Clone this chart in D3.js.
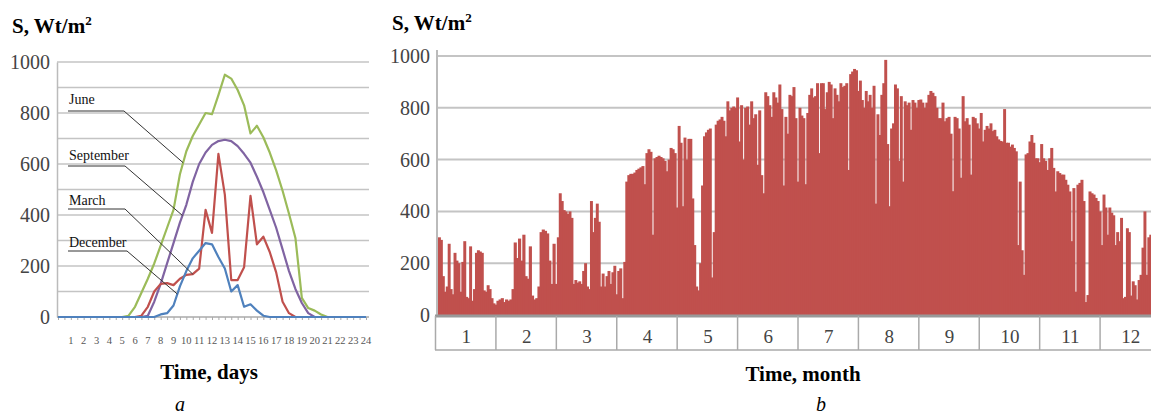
<!DOCTYPE html>
<html>
<head>
<meta charset="utf-8">
<script src="https://cdn.jsdelivr.net/npm/d3@7"></script>
<style>
    body { margin: 0; background: #fff; }
    svg { display: block; }
    svg text { font-family: "Liberation Serif", "DejaVu Serif", serif; }
</style>
</head>
<body>
<script>
// ---- DATA ----
// (a) hourly profile, half-hour steps from 0 to 24 h
var hours = d3.range(0, 24.01, 0.5);
var june = [0,0,0,0,0,0,0,0,0,0,
    0,5,40,95,150,210,280,350,420,560,
    650,710,755,800,795,870,950,935,890,830,
    720,750,705,645,575,495,405,310,75,35,
    25,10,0,0,0,0,0,0,0];
var september = [0,0,0,0,0,0,0,0,0,0,
    0,0,0,0,5,60,130,210,290,370,
    440,530,600,645,675,690,695,690,670,640,
    605,550,490,420,350,265,180,110,55,15,
    0,0,0,0,0,0,0,0,0];
var march = [0,0,0,0,0,0,0,0,0,0,
    0,0,0,5,40,100,130,133,125,150,
    165,168,190,420,330,640,480,145,145,195,
    475,285,315,255,175,60,15,0,0,0,
    0,0,0,0,0,0,0,0,0];
var december = [0,0,0,0,0,0,0,0,0,0,
    0,0,0,0,0,0,10,15,45,120,
    180,230,260,290,285,235,190,100,125,40,
    50,25,5,0,0,0,0,0,0,0,
    0,0,0,0,0,0,0,0,0];
var seriesNames = ["June", "September", "March", "December"];
var hourLabels = d3.range(1, 25);
var yTicksA = [0, 200, 400, 600, 800, 1000];

// (b) daily values by month
var months = ["1","2","3","4","5","6","7","8","9","10","11","12"];
var jan = [295,300,290,150,90,110,275,100,80,240,210,200,90,205,285,70,65,265,55,100,240,250,245,240,95,90,115,100,65,45,40];
var feb = [55,60,65,50,60,55,60,100,280,220,295,210,310,150,140,265,75,60,65,110,320,330,325,315,210,120,275,120];
var mar = [300,470,440,405,400,390,400,375,120,135,125,130,120,170,200,110,100,440,320,375,430,360,110,160,110,150,170,120,165,190,80];
var apr = [170,180,65,205,515,540,545,545,550,560,565,570,575,505,625,640,630,310,605,610,615,610,605,595,555,600,645,640,625,415];
var may = [730,665,420,685,600,680,680,450,270,110,95,200,500,690,705,715,720,145,320,735,750,755,765,750,690,825,790,800,805,800,840];
var jun = [670,810,600,800,805,735,825,760,775,580,790,540,470,860,845,810,765,860,840,820,890,795,500,765,700,850,845,880,760,515];
var jul = [800,770,760,505,780,850,875,840,845,895,625,895,895,795,860,900,890,760,875,850,825,895,880,885,895,560,930,940,950,945,865];
var aug = [905,830,800,865,825,850,800,885,430,775,695,850,895,985,660,420,720,740,890,875,595,845,515,825,810,820,715,830,820,800,830];
var sep = [832,820,800,820,850,865,858,845,800,760,760,820,748,760,765,700,478,765,760,720,530,845,748,760,735,542,765,760,740,720];
var oct = [780,670,715,730,720,740,710,715,690,678,672,670,795,665,665,650,658,645,632,270,515,250,155,620,625,670,695,665,605,605,590];
var nov = [660,605,595,560,605,645,568,477,555,548,542,542,522,503,477,285,490,90,503,510,522,440,50,77,477,470,465,452,440,400];
var dec = [270,465,415,310,415,395,385,270,320,285,375,65,70,335,320,75,130,115,60,135,155,260,400,155,300,310,250,120,200,150,100];
var yTicksB = [0, 200, 400, 600, 800, 1000];

var lineColors = ["#9bbb59", "#8064a2", "#c0504d", "#4f81bd"];
var barColor = "#c0504d";
var serif = "'Liberation Serif', 'DejaVu Serif', serif";

function main() {
    var svg = d3.select("body").append("svg")
        .attr("width", 1151)
        .attr("height", 418);

    drawHourly(svg);
    drawYearly(svg);
}

// left chart: solar radiation during the day
function drawHourly(svg) {
    var x = d3.scaleLinear().domain([0, 24]).range([58, 366]);
    var y = d3.scaleLinear().domain([0, 1000]).range([317, 62]);
    var g = svg.append("g");

    // gridlines every 100
    g.selectAll(".grid").data(d3.range(100, 1001, 100)).enter()
        .append("line")
        .attr("x1", 57).attr("x2", 369)
        .attr("y1", function (d) { return y(d); })
        .attr("y2", function (d) { return y(d); })
        .attr("stroke", "#c4c4c4").attr("stroke-width", 1.5);

    // y axis
    var yAxis = d3.axisLeft(y).tickValues(yTicksA).tickFormat(d3.format("d"))
        .tickSize(0).tickPadding(7);
    var ya = g.append("g").attr("transform", "translate(57,0)").call(yAxis);
    ya.select(".domain").attr("stroke", "#bbb").attr("stroke-width", 1.5);
    ya.selectAll("text").style("font-size", "20px").style("fill", "#444")
        .style("font-family", serif);

    // x axis with half hour ticks
    var xAxis = d3.axisBottom(x).tickValues(hours).tickSize(3).tickFormat("");
    var xa = g.append("g").attr("transform", "translate(0,317)").call(xAxis);
    xa.select(".domain").attr("d", "M57,0H369").attr("stroke", "#aaa").attr("stroke-width", 1.5);
    xa.selectAll(".tick line").attr("stroke", "#aaa");

    g.selectAll(".hlab").data(hourLabels).enter()
        .append("text")
        .attr("x", function (d) { return x(d); })
        .attr("y", 344)
        .attr("text-anchor", "middle")
        .style("font-size", "10.5px")
        .style("fill", "#555")
        .text(function (d) { return d; });

    // lines
    var allSeries = [june, september, march, december];
    var line = d3.line()
        .x(function (d, i) { return x(hours[i]); })
        .y(function (d) { return y(d); });
    g.selectAll(".series").data(allSeries).enter()
        .append("path")
        .attr("d", line)
        .attr("fill", "none")
        .attr("stroke", function (d, i) { return lineColors[i]; })
        .attr("stroke-width", 2.2)
        .attr("stroke-linejoin", "round");

    // labels with leader lines
    var leaders = [
        { name: seriesNames[0], ty: 104, uy: 111, h: 9.75, s: june, ux: 124 },
        { name: seriesNames[1], ty: 160, uy: 166, h: 9.7, s: september, ux: 125 },
        { name: seriesNames[2], ty: 205, uy: 209, h: 10.5, s: march, ux: 125 },
        { name: seriesNames[3], ty: 247, uy: 251, h: 9.3, s: december, ux: 127 }
    ];
    leaders.forEach(function (l) {
        var i = Math.floor(l.h * 2);
        var f = l.h * 2 - i;
        var v = l.s[i] * (1 - f) + l.s[i + 1] * f;
        g.append("polyline")
            .attr("points", [[68, l.uy], [l.ux, l.uy], [x(l.h), y(v)]].join(" "))
            .attr("fill", "none")
            .attr("stroke", "#333")
            .attr("stroke-width", 1);
        g.append("text")
            .attr("x", 69).attr("y", l.ty)
            .style("font-size", "14px")
            .style("fill", "#111")
            .text(l.name);
    });

    // titles
    var t = g.append("text").attr("x", 12).attr("y", 33)
        .style("font-size", "21px").style("font-weight", "bold").text("S, Wt/m");
    t.append("tspan").attr("dy", -8).style("font-size", "13px").text("2");

    g.append("text").attr("x", 209).attr("y", 379)
        .attr("text-anchor", "middle")
        .style("font-size", "21px").style("font-weight", "bold")
        .text("Time, days");
    g.append("text").attr("x", 180).attr("y", 411)
        .attr("text-anchor", "middle")
        .style("font-size", "20px").style("font-style", "italic")
        .text("a");
}

// right chart: daily radiation over the year
function drawYearly(svg) {
    var monthData = [jan, feb, mar, apr, may, jun, jul, aug, sep, oct, nov, dec];
    var xm = d3.scaleBand().domain(months).range([436, 1161]).padding(0);
    var y = d3.scaleLinear().domain([0, 1000]).range([315, 56]);
    var g = svg.append("g");

    // gridlines
    g.selectAll(".grid").data(yTicksB.slice(1)).enter()
        .append("line")
        .attr("x1", 437).attr("x2", 1151)
        .attr("y1", function (d) { return y(d); })
        .attr("y2", function (d) { return y(d); })
        .attr("stroke", "#c4c4c4").attr("stroke-width", 2);

    // bars
    var days = [];
    monthData.forEach(function (arr, m) {
        var xd = d3.scaleBand().domain(d3.range(arr.length))
            .range([xm(months[m]), xm(months[m]) + xm.bandwidth()]);
        arr.forEach(function (v, d) {
            days.push({ x: xd(d), w: xd.bandwidth(), v: v });
        });
    });
    g.selectAll(".bar").data(days).enter()
        .append("rect")
        .attr("x", function (d) { return d.x; })
        .attr("width", function (d) { return d.w + 1; })
        .attr("y", function (d) { return y(d.v); })
        .attr("height", function (d) { return y(0) - y(d.v); })
        .attr("fill", barColor);

    // y axis
    var yAxis = d3.axisLeft(y).tickValues(yTicksB).tickFormat(d3.format("d"))
        .tickSize(0).tickPadding(7);
    var ya = g.append("g").attr("transform", "translate(437,0)").call(yAxis);
    ya.select(".domain").attr("d", "M0,50V315").attr("stroke", "#bbb").attr("stroke-width", 2);
    ya.selectAll("text").style("font-size", "20px").style("fill", "#444")
        .style("font-family", serif);

    // month table
    g.append("line").attr("x1", 435).attr("x2", 1161)
        .attr("y1", 316).attr("y2", 316)
        .attr("stroke", "#999").attr("stroke-width", 3);
    g.append("line").attr("x1", 435).attr("x2", 1161)
        .attr("y1", 350).attr("y2", 350)
        .attr("stroke", "#aaa").attr("stroke-width", 1.5);
    g.selectAll(".mdiv").data(months.concat(["end"])).enter()
        .append("line")
        .attr("x1", function (d, i) { return 435.5 + i * xm.bandwidth(); })
        .attr("x2", function (d, i) { return 435.5 + i * xm.bandwidth(); })
        .attr("y1", 316).attr("y2", 350)
        .attr("stroke", "#aaa").attr("stroke-width", 1.5);
    g.selectAll(".mlab").data(months).enter()
        .append("text")
        .attr("x", function (d) { return xm(d) + xm.bandwidth() / 2; })
        .attr("y", 343)
        .attr("text-anchor", "middle")
        .style("font-size", "19px")
        .style("fill", "#444")
        .text(function (d) { return d; });

    // titles
    var t = g.append("text").attr("x", 392).attr("y", 30)
        .style("font-size", "21px").style("font-weight", "bold").text("S, Wt/m");
    t.append("tspan").attr("dy", -8).style("font-size", "13px").text("2");

    g.append("text").attr("x", 803).attr("y", 381)
        .attr("text-anchor", "middle")
        .style("font-size", "21px").style("font-weight", "bold")
        .text("Time, month");
    g.append("text").attr("x", 821).attr("y", 411)
        .attr("text-anchor", "middle")
        .style("font-size", "20px").style("font-style", "italic")
        .text("b");
}

window.onload = main;
</script>
</body>
</html>
